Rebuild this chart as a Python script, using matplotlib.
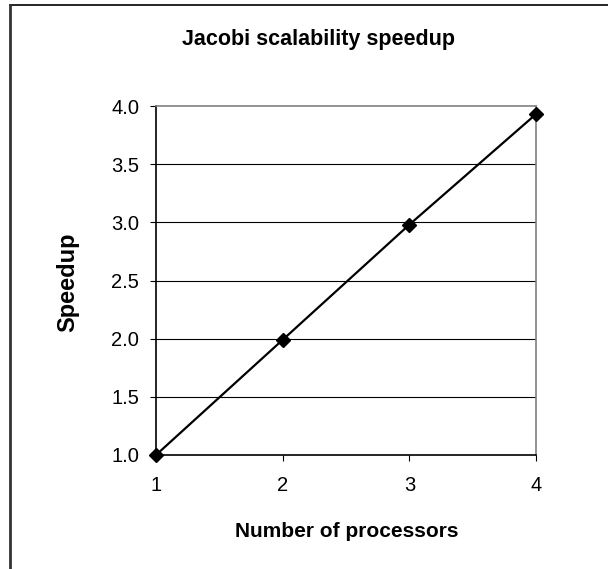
import matplotlib.pyplot as plt
from matplotlib.lines import Line2D

plt.rcParams['font.family'] = ['Liberation Sans', 'DejaVu Sans']

processors = [1, 2, 3, 4]
speedup = [1.0, 1.99, 2.98, 3.93]
y_ticks = [1.0, 1.5, 2.0, 2.5, 3.0, 3.5, 4.0]

W, H = 608, 569
fig = plt.figure(figsize=(W / 100, H / 100), dpi=100)
ax = fig.add_axes([156 / W, 1 - 455 / H, 380 / W, 349 / H])

for v in y_ticks[1:-1]:
    ax.axhline(v, color='black', lw=0.8, zorder=1)

ax.plot(processors, speedup, color='black', lw=1.6, marker='D', markersize=7,
        zorder=3, clip_on=False)

ax.set_xlim(1, 4)
ax.set_ylim(1.0, 4.0)
ax.set_xticks(processors)
ax.set_yticks(y_ticks)
ax.set_yticklabels([f'{v:.1f}' for v in y_ticks])
ax.tick_params(axis='both', direction='out', length=4, width=0.8, labelsize=14.5)
ax.tick_params(axis='x', pad=11)
ax.tick_params(axis='y', pad=8)

ax.spines['left'].set_color('black')
ax.spines['bottom'].set_color('black')
ax.spines['top'].set_color('#808080')
ax.spines['right'].set_color('#808080')
for s in ax.spines.values():
    s.set_linewidth(1.2)

# titles placed in figure pixels (chart area is wider than the picture)
fig.text(318 / W, 1 - 45 / H, 'Jacobi scalability speedup', fontsize=15.5,
         fontweight='bold', ha='center', va='baseline')
fig.text(347 / W, 1 - 537 / H, 'Number of processors', fontsize=15,
         fontweight='bold', ha='center', va='baseline')
fig.text(68 / W, 1 - 282 / H, 'Speedup', fontsize=17, fontweight='bold',
         ha='center', va='center', rotation=90)

# outer chart frame (top and left edges only visible)
fig.add_artist(Line2D([10 / W, 1], [1 - 5 / H, 1 - 5 / H], color='black', lw=1.2))
fig.add_artist(Line2D([10 / W, 10 / W], [0, 1 - 5 / H], color='#333333', lw=2))

fig.savefig('out.png', dpi=100)
